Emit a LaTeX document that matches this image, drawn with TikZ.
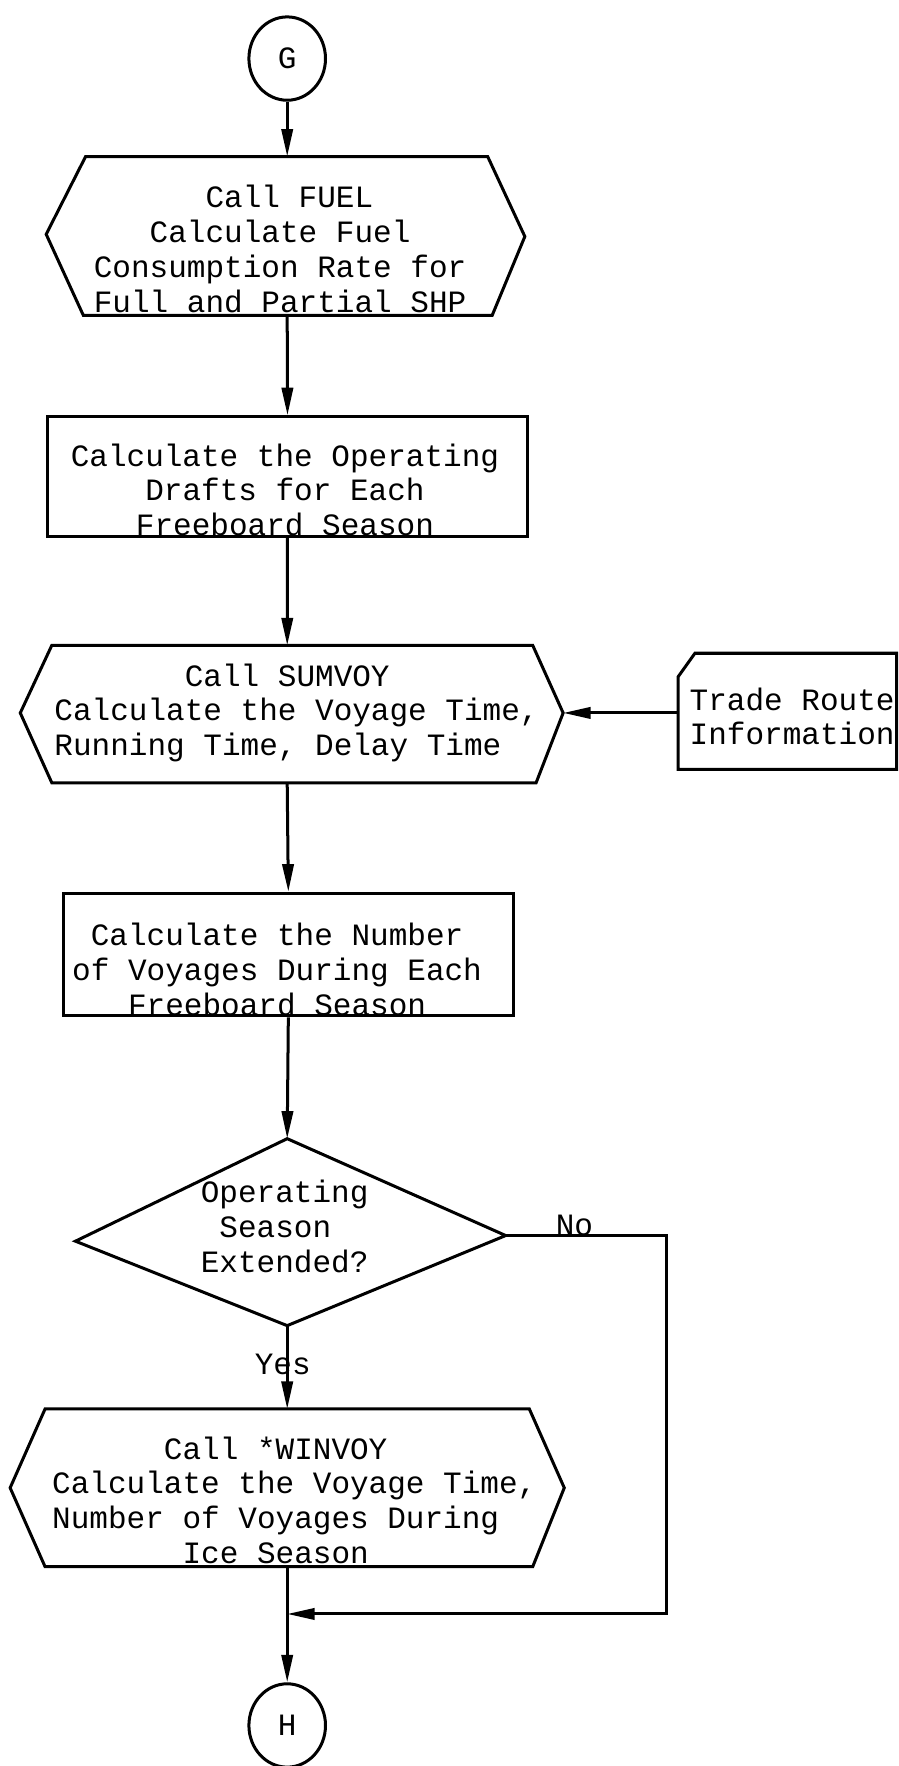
\documentclass[tikz,border=0pt]{standalone}
\usepackage{fontspec}
\setmainfont{Liberation Mono}
\usetikzlibrary{shapes.geometric,arrows.meta}
\newlength\cwd \setlength\cwd{7.44pt}
\newcommand\tind[1]{\hspace*{#1\cwd}}
\begin{document}
\begin{tikzpicture}[x=0.45pt,y=-0.45pt,
  line width=1.2pt, line join=miter,
  txt/.style={inner sep=0pt, font=\fontsize{12.4}{13.9}\selectfont},
  conn/.style={-{Triangle[length=11pt,width=4.5pt]}},
  termnode/.style={draw, ellipse, inner sep=0pt, minimum width=30.6pt, minimum height=33.3pt, font=\fontsize{12.4}{13.9}\selectfont},
  boxnode/.style={draw, inner sep=0pt}
]
\useasboundingbox (0,0) rectangle (798,1568);

% terminals
\node[termnode] (G) at (255,52) {G};
\node[termnode] (H) at (255,1532) {H};

% hexagon 1
\draw (41,208) -- (76,139) -- (433,139) -- (466,210) -- (437,280) -- (74,280) -- cycle;
\coordinate (h1t) at (255,139);
\coordinate (h1b) at (255,280);
\node[txt, align=left, anchor=west] (h1) at (82,221) {\tind{6}Call FUEL\\\tind{3}Calculate Fuel\\Consumption Rate for\\Full and Partial SHP};

% rectangle 1
\node[boxnode, minimum width=191.5pt, minimum height=47.7pt] (r1) at (255.25,423) {};
\node[txt, align=center] (r1t) at (253,435) {Calculate the Operating\\Drafts for Each\\Freeboard Season};

% hexagon 2
\draw (18,633) -- (46,573) -- (473,573) -- (500,633) -- (476,695) -- (46,695) -- cycle;
\coordinate (h2t) at (255,573);
\coordinate (h2b) at (255,695);
\coordinate (h2r) at (500,633);
\node[txt, align=left, anchor=west] (h2) at (47,633) {\tind{7}Call SUMVOY\\Calculate the Voyage Time,\\Running Time, Delay Time};

% trade route input
\draw (602,601) -- (617,580) -- (796,580) -- (796,683) -- (602,683) -- cycle;
\coordinate (trl) at (602,633);
\node[txt, align=left, anchor=west] (tr) at (611,636) {Trade Route\\Information};

% rectangle 2
\node[boxnode, minimum width=180pt, minimum height=49pt] (r2) at (256,847.5) {};
\node[txt, align=center] (r2t) at (246,861) {Calculate the Number\\of Voyages During Each\\Freeboard Season};

% decision
\draw (255,1011) -- (449,1097) -- (255,1177) -- (67,1102) -- cycle;
\coordinate (dt) at (255,1011);
\coordinate (dr) at (449,1097);
\coordinate (db) at (255,1177);
\node[txt, align=left, anchor=west] (d) at (177,1089) {Operating\\\tind{1}Season\\Extended?};
\node[txt] (no) at (510,1088) {No};
\node[txt] (yes) at (251,1211) {Yes};

% hexagon 3
\draw (9,1321) -- (40,1251) -- (470,1251) -- (501,1321) -- (473,1391) -- (40,1391) -- cycle;
\coordinate (h3t) at (255,1251);
\coordinate (h3b) at (255,1391);
\node[txt, align=left, anchor=west] (h3) at (45,1332) {\tind{6}Call *WINVOY\\Calculate the Voyage Time,\\Number of Voyages During\\\tind{7}Ice Season};

% loop-back coordinates
\coordinate (nc1) at (592,1097);
\coordinate (nc2) at (592,1433);
\coordinate (merge) at (255,1433);

% connectors
\draw[conn] (G.south) -- (h1t);
\draw[conn] (h1b) -- (r1.north);
\draw[conn] (r1.south) -- (h2t);
\draw[conn] (trl) -- (h2r);
\draw[conn] (h2b) -- (r2.north);
\draw[conn] (r2.south) -- (dt);
\draw[conn] (db) -- (h3t);
\draw[conn] (h3b) -- (H.north);
\draw[conn] (dr) -- (nc1) -- (nc2) -- (merge);
\end{tikzpicture}
\end{document}
